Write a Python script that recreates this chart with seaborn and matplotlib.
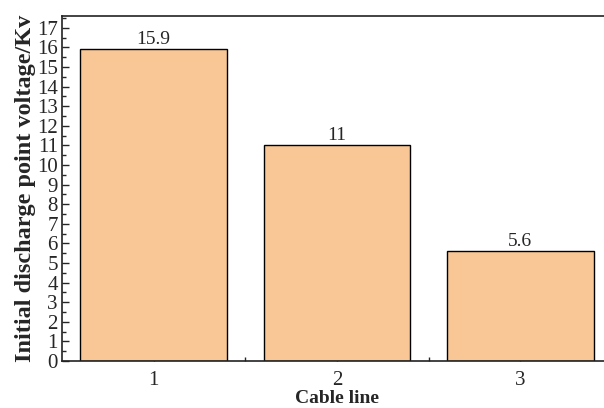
import matplotlib
matplotlib.use("Agg")
import matplotlib.pyplot as plt
import seaborn as sns
from matplotlib.ticker import MultipleLocator, FixedLocator

cable_lines = ["1", "2", "3"]
voltages = [15.9, 11, 5.6]
bar_labels = ["15.9", "11", "5.6"]

sns.set_style("ticks")
plt.rcParams['font.family'] = ['Liberation Serif', 'DejaVu Serif']

fig = plt.figure(figsize=(6.04, 4.08), dpi=100)
ax = fig.add_axes([62 / 604, 47 / 408, 550 / 604, 345 / 408])

sns.barplot(x=cable_lines, y=voltages, color="#F9C795", saturation=1,
            edgecolor="black", linewidth=1.0, width=0.8, ax=ax)

for i, (v, lab) in enumerate(zip(voltages, bar_labels)):
    ax.text(i, v + 0.05, lab, ha="center", va="bottom", fontsize=14)

ax.set_xlim(-0.5, 2.5)
ax.set_ylim(0, 17.6)
ax.yaxis.set_major_locator(MultipleLocator(1))
ax.yaxis.set_minor_locator(MultipleLocator(0.5))
ax.xaxis.set_minor_locator(FixedLocator([0.5, 1.5]))
ax.tick_params(axis="both", which="major", direction="in", length=5, labelsize=15, width=1)
ax.tick_params(axis="both", which="minor", direction="in", length=3, width=1)
ax.tick_params(axis="y", pad=3)
ax.tick_params(axis="x", pad=7)

for s in ax.spines.values():
    s.set_linewidth(1.2)
    s.set_color("#222222")

ax.set_xlabel("Cable line", fontsize=14, fontweight="bold", labelpad=0)
ax.set_ylabel("Initial discharge point voltage/Kv", fontsize=17.5, fontweight="bold", labelpad=1)

fig.savefig("out.png", dpi=100)
